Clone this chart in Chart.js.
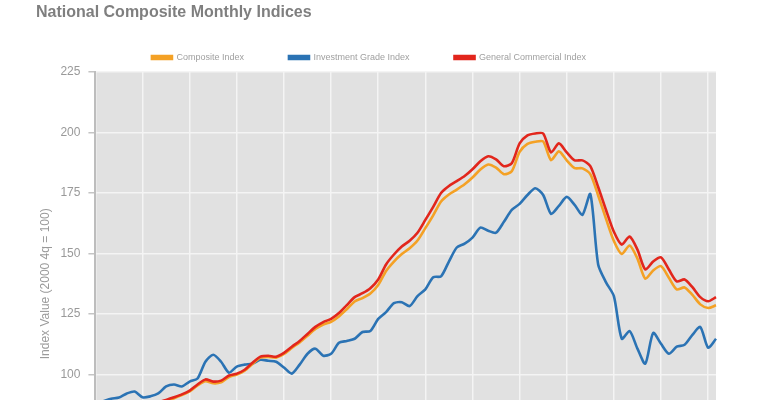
<!DOCTYPE html>
<html>
<head>
<meta charset="utf-8">
<script src="https://cdn.jsdelivr.net/npm/chart.js@4.4.1/dist/chart.umd.min.js"></script>
<style>
  body { margin: 0; background: #fff; overflow: hidden; }
  #wrap { position: relative; width: 770px; height: 524px; }
  #title {
    position: absolute; left: 36px; top: 2px;
    font: bold 16px "Liberation Sans", Arial, sans-serif;
    color: #7f7f7f; line-height: 19px;
  }
</style>
</head>
<body>
<div id="wrap">
  <div id="title">National Composite Monthly Indices</div>
  <canvas id="chart" width="770" height="524"></canvas>
</div>
<script>
// every second month, Jan 1998 .. Mar 2011
const startYear = 1998;
const monthNames = ['Jan', 'Mar', 'May', 'Jul', 'Sep', 'Nov'];
const periods = [];
for (let i = 0; i < 80; i++) {
  periods.push(monthNames[i % 6] + ' ' + (startYear + Math.floor(i / 6)));
}

const composite = [
  79.5, 80.5, 81.5, 82.5, 83.5, 84.5, 85.5, 86.5, 88, 89,
  90.2, 91.5, 93, 95.5, 97.3, 96.4, 96.8, 99, 100, 101.6,
  104.4, 107, 107.3, 107, 108.5, 111, 113.3, 116, 118.8, 120.7,
  121.8, 124, 127, 130.2, 131.6, 133.5, 137, 142.8, 146.7, 149.8,
  152.2, 155.4, 160.5, 165.8, 171.5, 174.4, 176.4, 178.6, 181.4, 184.7,
  186.8, 185.5, 182.8, 184, 192, 195.3, 196.2, 196.3, 188.6, 192.2,
  188.5, 185.3, 185.2, 182.8, 174, 164.3, 155.2, 149.8, 153.3, 147.9,
  139.6, 143, 144.8, 140, 135.2, 136, 132.9, 129, 127.5, 128.6
];

const investmentGrade = [
  88, 89, 90, 90.5, 92.2, 93, 90.6, 91, 92.2, 95.1,
  95.9, 95.1, 97.1, 98.4, 105.3, 108.2, 105.3, 100.8, 103.3, 104.1,
  104.5, 106.1, 105.7, 105.3, 102.9, 100.4, 104.1, 108.6, 110.7, 107.8,
  108.6, 113.1, 113.9, 114.8, 117.6, 118, 123, 125.8, 129.5, 129.9,
  128.3, 132.4, 135.2, 140.2, 140.6, 146.7, 152.5, 154.1, 156.6, 160.7,
  159.4, 158.6, 163.1, 168, 170.5, 174.2, 177, 174.2, 166.4, 169.7,
  173.4, 170.1, 166, 174.6, 145.5, 138.1, 132.4, 114.8, 118, 110.7,
  104.5, 117.2, 112.7, 108.6, 111.5, 112.3, 116.4, 119.7, 111.1, 114.8
];

const generalCommercial = [
  80, 81, 82, 83, 84, 85, 86, 87, 88.5, 89.5,
  90.6, 91.8, 93.4, 95.9, 98, 97.1, 97.5, 99.6, 100.4, 102,
  104.9, 107.4, 107.8, 107.4, 109, 111.5, 113.9, 116.8, 119.7, 121.7,
  123, 125.4, 128.7, 132, 133.6, 135.7, 139.3, 145.5, 149.6, 152.9,
  155.3, 158.6, 163.9, 169.3, 175, 177.9, 179.9, 182, 184.8, 188.1,
  190.2, 188.9, 186.1, 187.3, 195.5, 198.8, 199.6, 199.6, 191.8, 195.5,
  191.8, 188.5, 188.5, 186.1, 177.5, 168, 159, 153.7, 157, 151.6,
  143.4, 146.7, 148.4, 143.4, 138.5, 139.3, 136.1, 132, 130.3, 132
];

const plotBackground = {
  id: 'plotBackground',
  beforeDraw(chart) {
    const { ctx, chartArea: a } = chart;
    ctx.save();
    ctx.fillStyle = '#e1e1e1';
    ctx.fillRect(a.left, a.top, a.right - a.left, a.bottom - a.top);
    ctx.restore();
  }
};

const font = "'Liberation Sans', Arial, sans-serif";

new Chart(document.getElementById('chart'), {
  type: 'line',
  data: {
    labels: periods,
    datasets: [
      { label: 'Composite Index', data: composite, borderColor: '#f4a125', backgroundColor: '#f4a125', order: 1 },
      { label: 'Investment Grade Index', data: investmentGrade, borderColor: '#2b73b4', backgroundColor: '#2b73b4', order: 2 },
      { label: 'General Commercial Index', data: generalCommercial, borderColor: '#e2261c', backgroundColor: '#e2261c', order: 0 }
    ]
  },
  options: {
    responsive: false,
    animation: false,
    layout: { padding: { left: 22, right: 54, top: 8, bottom: 0 } },
    elements: {
      line: { borderWidth: 2.6, tension: 0.25 },
      point: { radius: 0 }
    },
    plugins: {
      tooltip: { enabled: false },
      legend: {
        position: 'top',
        labels: {
          boxWidth: 20,
          boxHeight: 3,
          padding: 45,
          color: '#a0a0a0',
          font: { family: font, size: 9 },
          sort: (a, b) => a.datasetIndex - b.datasetIndex
        }
      }
    },
    scales: {
      x: {
        grid: {
          color: '#f4f4f4',
          lineWidth: 1.5,
          tickColor: '#bbbbbb'
        },
        border: { display: false },
        ticks: {
          autoSkip: false,
          maxRotation: 0,
          color: '#999999',
          font: { family: font, size: 12 },
          callback: function (value, index) {
            return index % 6 === 0 ? String(startYear + index / 6) : null;
          }
        }
      },
      y: {
        min: 50,
        max: 225,
        border: { color: '#bdbdbd', width: 2 },
        grid: { color: '#f4f4f4', lineWidth: 1.5, tickColor: '#c4c4c4', tickLength: 7 },
        ticks: {
          stepSize: 25,
          padding: 8,
          color: '#999999',
          font: { family: font, size: 12 }
        },
        title: {
          display: true,
          text: 'Index Value (2000 4q = 100)',
          color: '#9a9a9a',
          font: { family: font, size: 12 },
          padding: { top: 16, bottom: 0 }
        }
      }
    }
  },
  plugins: [plotBackground]
});
</script>
</body>
</html>
